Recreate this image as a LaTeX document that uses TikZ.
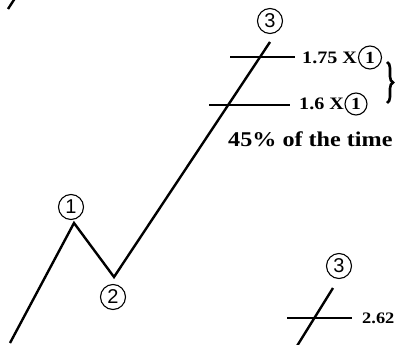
\documentclass[tikz,border=0pt]{standalone}
\usepackage{fontspec}
\setmainfont{Liberation Serif}
\newfontfamily\lblfont{Liberation Serif}[FakeStretch=1.15]
\newfontfamily\cfont{Liberation Sans}
\usetikzlibrary{decorations.pathreplacing}
\begin{document}
\begin{tikzpicture}[x=1pt,y=-1pt,
  wave/.style={line width=2.4pt, line cap=butt, line join=miter},
  level/.style={line width=1.4pt},
  circnum/.style={circle, draw, line width=1.1pt, inner sep=0pt, minimum size=25pt,
    font=\cfont\fontsize{20}{20}\selectfont},
  lblcirc/.style={circle, draw, line width=1.1pt, inner sep=0pt, minimum size=#1,
    font=\lblfont\bfseries\fontsize{17}{17}\selectfont},
  lbl/.style={font=\lblfont\bfseries\fontsize{#1}{#1}\selectfont, inner sep=0pt, anchor=west},
]
\useasboundingbox (0,0) rectangle (396,345);
% top-left fragment
\coordinate (f0) at (8,9);
\coordinate (f1) at (14.5,-1);
\draw[wave] (f0) -- (f1);
% main wave
\coordinate (s0) at (10,343);
\coordinate (p1) at (74,223);
\coordinate (p2) at (114,277);
\coordinate (p3) at (270,42);
\draw[wave] (s0) -- (p1) -- (p2) -- (p3);
\node[circnum] (c1) at (71,207) {1};
\node[circnum] (c2) at (113,297) {2};
\node[circnum] (c3) at (270,21) {3};
% levels
\coordinate (a1) at (230,57);
\coordinate (a2) at (295,57);
\draw[level] (a1) -- (a2);
\node[lbl=17.5] (t175) at (302,57.5) {1.75 X};
\node[lblcirc=23pt] (k1) at (370,57.5) {1};
\coordinate (b1) at (209,105);
\coordinate (b2) at (290,105);
\draw[level] (b1) -- (b2);
\node[lbl=17.5] (t16) at (299,104) {1.6 X};
\node[lblcirc=22pt] (k2) at (356,104) {1};
\coordinate (br1) at (387,62);
\coordinate (br2) at (387,103);
\draw[line width=2.6pt, decorate, decoration={brace, amplitude=6pt}] (br1) -- (br2);
\node[lbl=21, anchor=base west] (t45) at (228,146) {45\% of the time};
% bottom right
\coordinate (q0) at (297,346);
\coordinate (q1) at (333,288);
\draw[wave] (q0) -- (q1);
\node[circnum] (c4) at (339,266) {3};
\coordinate (d1) at (287,318);
\coordinate (d2) at (352,318);
\draw[level] (d1) -- (d2);
\node[lbl=16] (t262) at (362,318) {2.62};
\end{tikzpicture}
\end{document}
